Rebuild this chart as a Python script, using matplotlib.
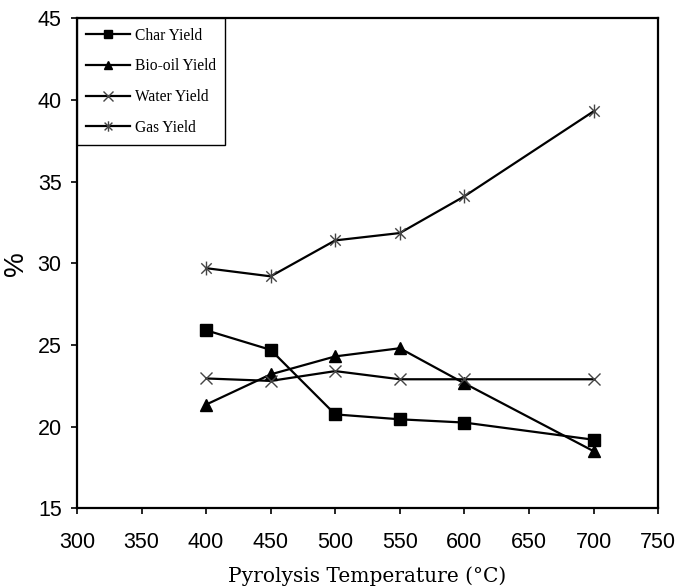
import matplotlib
matplotlib.use("Agg")
import matplotlib.pyplot as plt
from matplotlib.path import Path

temps = [400, 450, 500, 550, 600, 700]
char_yield = [25.9, 24.7, 20.75, 20.45, 20.25, 19.2]
biooil_yield = [21.35, 23.2, 24.3, 24.8, 22.65, 18.5]
water_yield = [22.95, 22.8, 23.4, 22.9, 22.9, 22.9]
gas_yield = [29.7, 29.2, 31.4, 31.85, 34.1, 39.3]

x_ticks = [300, 350, 400, 450, 500, 550, 600, 650, 700, 750]
y_ticks = [15, 20, 25, 30, 35, 40, 45]

asterisk = Path([(0, -1), (0, 1), (-0.75, -0.75), (0.75, 0.75), (-0.75, 0.75), (0.75, -0.75)],
                [Path.MOVETO, Path.LINETO, Path.MOVETO, Path.LINETO, Path.MOVETO, Path.LINETO])

fig = plt.figure(figsize=(6.75, 5.87), dpi=100)
ax = fig.add_axes([0.114, 0.134, 0.861, 0.835])

lw = 1.6
ax.plot(temps, char_yield, color='black', lw=lw, marker='s', ms=8, mfc='black', mec='black', label='Char Yield')
ax.plot(temps, biooil_yield, color='black', lw=lw, marker='^', ms=8.5, mfc='black', mec='black', label='Bio-oil Yield')
ax.plot(temps, water_yield, color='black', lw=lw, marker='x', ms=9, mec='#444444', mew=1.0, label='Water Yield')
ax.plot(temps, gas_yield, color='black', lw=lw, marker=asterisk, ms=10, mec='#444444', mew=1.0, label='Gas Yield')

ax.set_xlim(300, 750)
ax.set_ylim(15, 45)
ax.set_xticks(x_ticks)
ax.set_yticks(y_ticks)
ax.tick_params(direction='out', length=4, width=1.2, labelsize=15.5)
ax.tick_params(axis='x', pad=13)
ax.tick_params(axis='y', pad=7)
for lab in ax.get_xticklabels() + ax.get_yticklabels():
    lab.set_family('Liberation Sans')
for s in ax.spines.values():
    s.set_linewidth(1.6)

ax.set_xlabel('Pyrolysis Temperature (\u00b0C)', family='DejaVu Serif', fontsize=14.5, labelpad=10)
ax.set_ylabel('%', family='Liberation Sans', fontsize=20, labelpad=6)

leg = ax.legend(loc='upper left', bbox_to_anchor=(0, 1), borderaxespad=0,
                prop={'family': 'Liberation Serif', 'size': 11.2},
                frameon=True, fancybox=False, edgecolor='black', framealpha=1,
                handlelength=2.8, labelspacing=0.95, markerscale=0.75,
                borderpad=0.6, handletextpad=0.3)
leg.get_frame().set_linewidth(1.0)

fig.savefig('out.png', dpi=100)
